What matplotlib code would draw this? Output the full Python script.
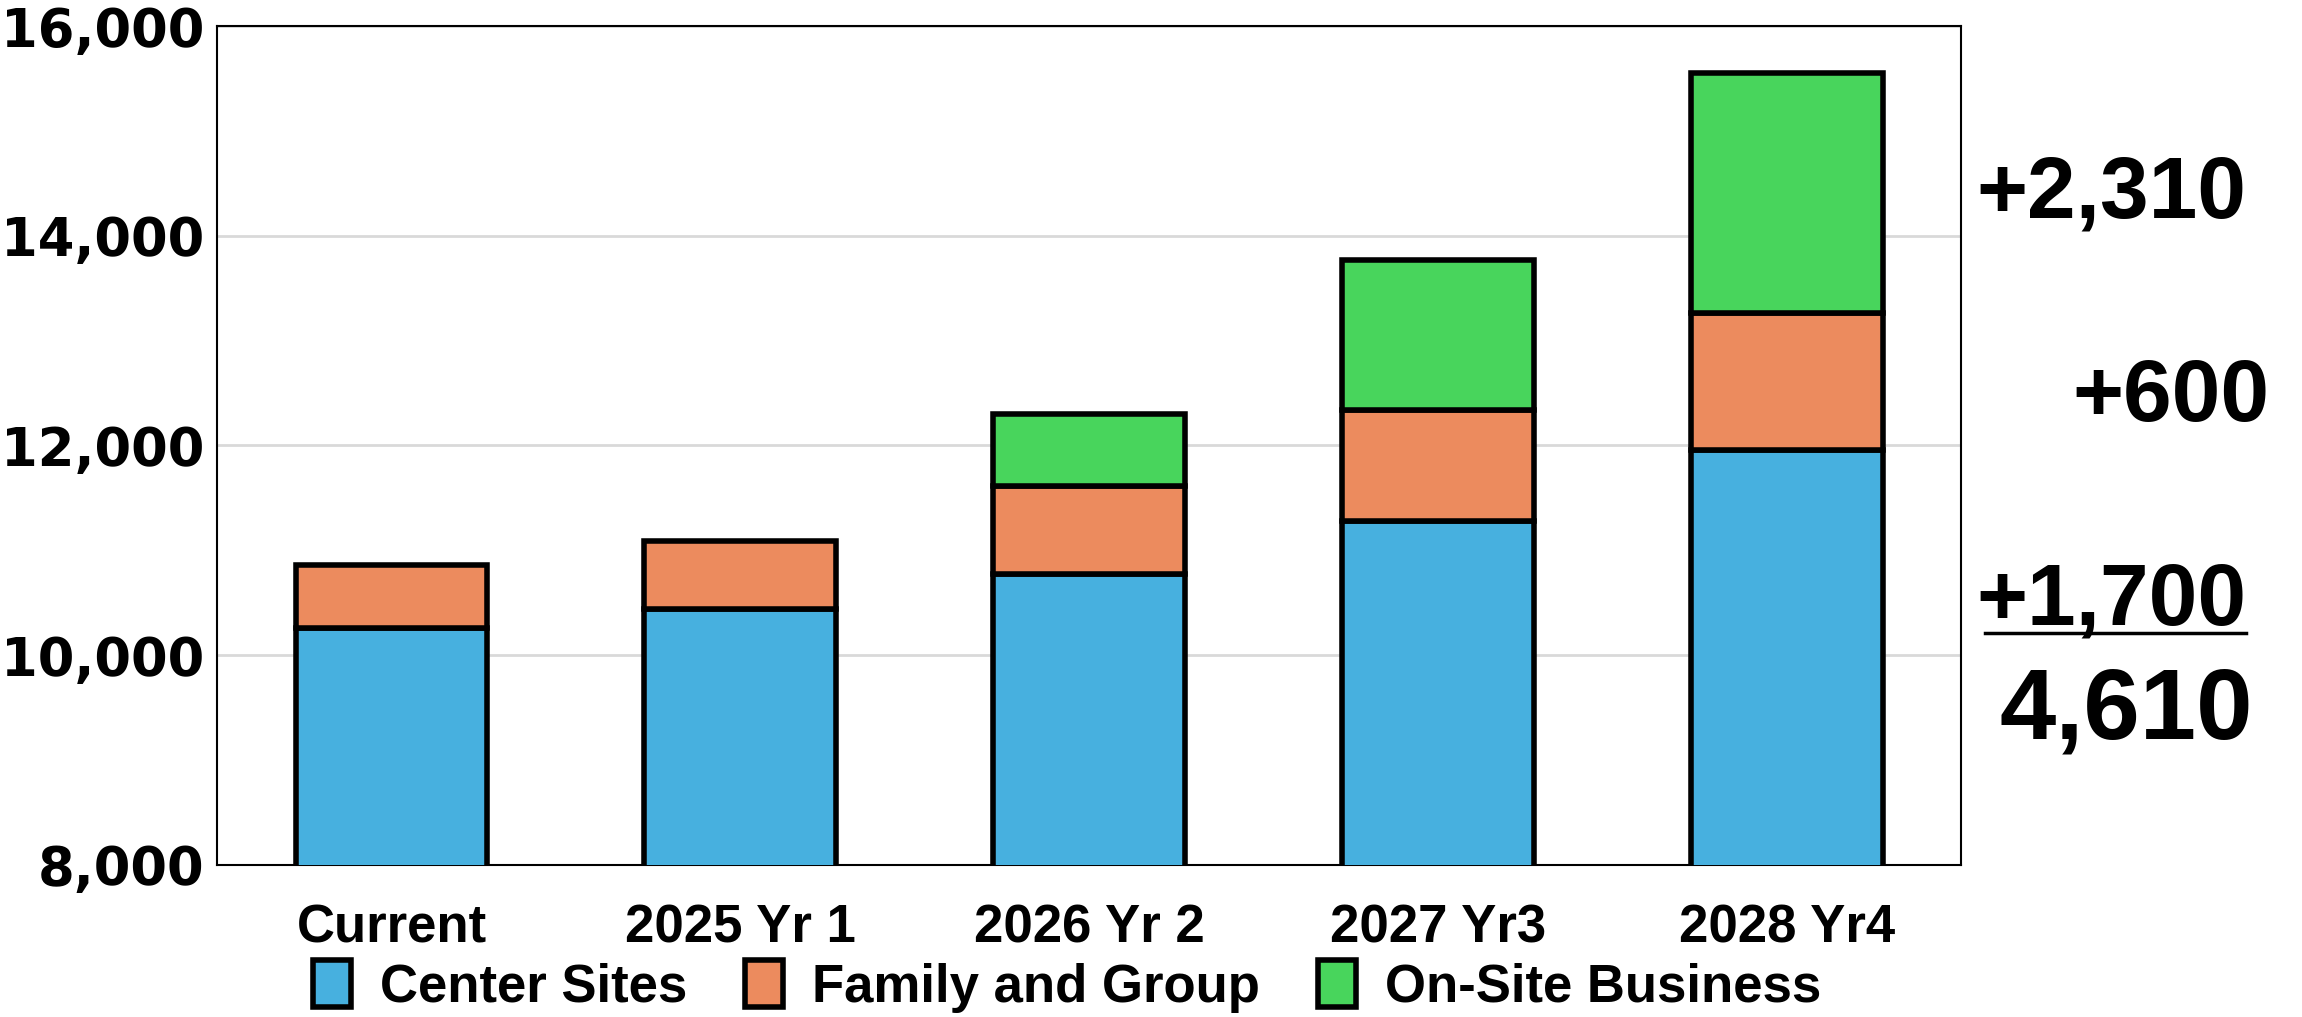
import numpy as np
import matplotlib
matplotlib.use('Agg')
import matplotlib.pyplot as plt
from matplotlib.ticker import FuncFormatter

categories = ['Current', '2025 Yr 1', '2026 Yr 2', '2027 Yr3', '2028 Yr4']
center_sites = [10260, 10440, 10770, 11280, 11960]
family_group = [600, 650, 840, 1060, 1300]
onsite_business = [0, 0, 690, 1430, 2290]
series_names = ['Center Sites', 'Family and Group', 'On-Site Business']
colors = ['#47b0df', '#ec8b5e', '#48d55c']
change_labels = ['+2,310', '+600', '+1,700']
total_label = '4,610'

font = ['Liberation Sans', 'DejaVu Sans']


def make_chart():
    fig = plt.figure(figsize=(23.02, 10.17), dpi=100)
    ax = fig.add_axes([0.0943, 0.1495, 0.7577, 0.8249])

    x = np.arange(len(categories))
    base = np.zeros(len(categories))
    for vals, name, col in zip([center_sites, family_group, onsite_business], series_names, colors):
        vals = np.array(vals, dtype=float)
        mask = vals > 0
        ax.bar(x[mask], vals[mask], bottom=base[mask], width=0.55,
               color=col, edgecolor='black', linewidth=4, label=name, zorder=3)
        base = base + vals

    ax.set_ylim(8000, 16000)
    ax.set_xlim(-0.5, len(categories) - 0.5)
    ax.set_yticks([8000, 10000, 12000, 14000, 16000])
    ax.yaxis.set_major_formatter(FuncFormatter(lambda v, p: f'{int(v):,}'))
    ax.grid(axis='y', color='#d9d9d9', linewidth=2, zorder=0)
    ax.set_axisbelow(True)
    for s in ax.spines.values():
        s.set_linewidth(1.5)
        s.set_color('black')
    ax.tick_params(axis='both', length=0)
    ax.tick_params(axis='y', pad=9)
    ax.tick_params(axis='x', pad=28)
    for t in ax.get_yticklabels():
        t.set_fontfamily('DejaVu Sans')
        t.set_fontweight('bold')
        t.set_fontsize(38)
    ax.set_xticks(x)
    ax.set_xticklabels(categories, family=font, fontweight='bold', fontsize=38)

    fig.legend(loc='center', bbox_to_anchor=(0.4635, 0.03), ncol=3, frameon=False,
               prop={'family': font, 'weight': 'bold', 'size': 38},
               handlelength=0.72, handleheight=1.0, handletextpad=0.55,
               columnspacing=1.1, borderpad=0)

    # change annotations to the right of the plot
    fig.text(2246 / 2302, 1 - 195 / 1017, change_labels[0], ha='right', va='center',
             family=font, fontweight='bold', fontsize=63)
    fig.text(2270 / 2302, 1 - 398 / 1017, change_labels[1], ha='right', va='center',
             family=font, fontweight='bold', fontsize=63)
    fig.text(2246 / 2302, 1 - 602 / 1017, change_labels[2], ha='right', va='center',
             family=font, fontweight='bold', fontsize=63)
    fig.add_artist(plt.Line2D([1985 / 2302, 2246 / 2302], [1 - 633 / 1017, 1 - 633 / 1017],
                              color='black', linewidth=2.5, transform=fig.transFigure))
    fig.text(2253 / 2302, 1 - 712 / 1017, total_label, ha='right', va='center',
             family=font, fontweight='bold', fontsize=73)

    fig.savefig('out.png', dpi=100)


if __name__ == '__main__':
    make_chart()
